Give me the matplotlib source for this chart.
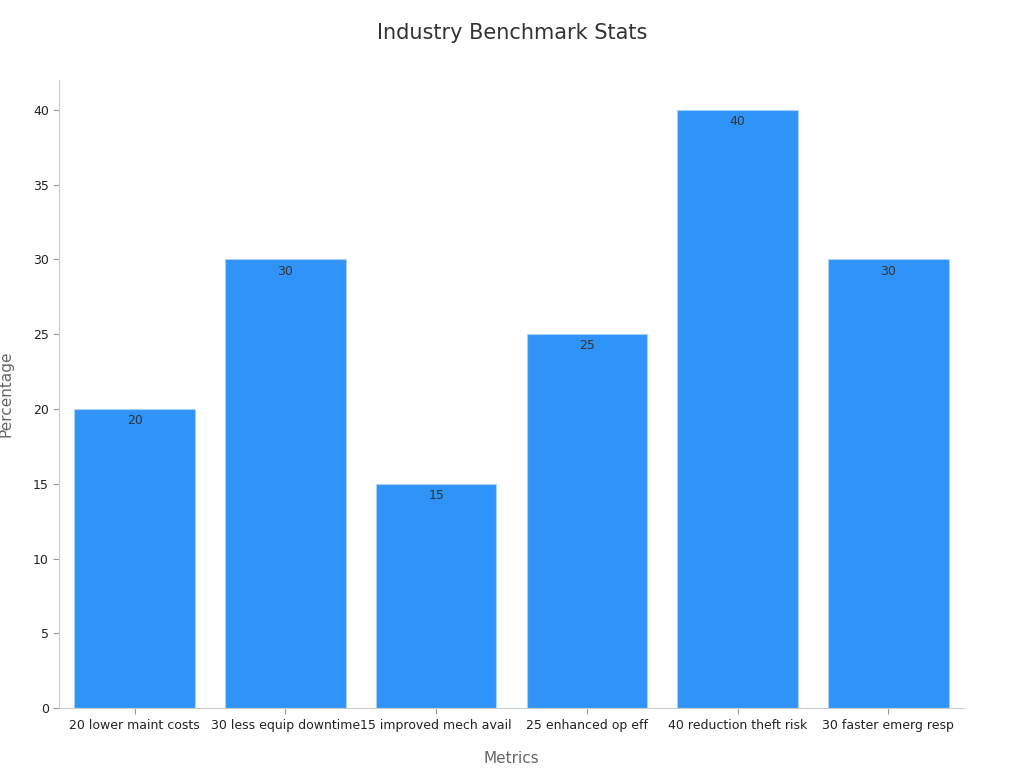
import matplotlib
matplotlib.use("Agg")
import matplotlib.pyplot as plt

categories = ["20 lower maint costs", "30 less equip downtime", "15 improved mech avail",
              "25 enhanced op eff", "40 reduction theft risk", "30 faster emerg resp"]
values = [20, 30, 15, 25, 40, 30]
yticks = [0, 5, 10, 15, 20, 25, 30, 35, 40]

fig = plt.figure(figsize=(10.24, 7.68), dpi=100)
ax = fig.add_axes([0.058, 0.078, 0.883, 0.818])
bars = ax.bar(range(len(categories)), values, width=0.8, color="#2f93f7", edgecolor="#a9d0f5", linewidth=0.8)
for i, v in enumerate(values):
    ax.text(i, v - 0.35, str(v), ha="center", va="top", fontsize=9, color="#333333")
ax.set_xlim(-0.5, len(categories) - 0.5)
ax.set_ylim(0, 42)
ax.set_yticks(yticks)
ax.set_xticks(range(len(categories)))
ax.set_xticklabels(categories, fontsize=9, color="#222222")
ax.tick_params(axis="y", labelsize=9, colors="#222222", length=4, color="#999999")
ax.tick_params(axis="x", length=4, color="#999999")
for s in ["top", "right"]:
    ax.spines[s].set_visible(False)
for s in ["left", "bottom"]:
    ax.spines[s].set_color("#cccccc")
ax.set_xlabel("Metrics", fontsize=11, color="#666666", labelpad=14)
ax.set_ylabel("Percentage", fontsize=11, color="#666666", labelpad=14)
fig.suptitle("Industry Benchmark Stats", fontsize=15, color="#333333", y=0.97)
fig.savefig("out.png", dpi=100)
